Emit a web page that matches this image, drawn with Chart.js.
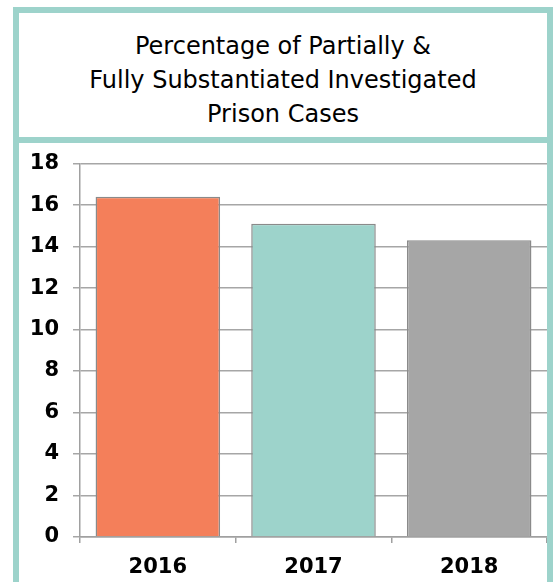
<!DOCTYPE html>
<html>
<head>
<meta charset="utf-8">
<script src="https://cdn.jsdelivr.net/npm/chart.js"></script>
<style>
  body { margin: 0; background: #fff; width: 553px; height: 582px; overflow: hidden; }
  .frame { position: absolute; left: 13px; top: 7px; width: 546px; height: 590px; background: #9dd3cb; }
  .title-box { position: absolute; left: 6px; top: 6px; width: 528px; height: 124px; background: #fff;
    font-family: "DejaVu Sans", Verdana, sans-serif; font-size: 24px; line-height: 34px; color: #000;
    text-align: center; box-sizing: border-box; padding-top: 16px; }
  .chart-box { position: absolute; left: 6px; top: 136px; width: 528px; height: 460px; background: #fff; }
  canvas { display: block; margin-top: -6px; }
</style>
</head>
<body>
<div class="frame">
  <div class="title-box">Percentage of Partially &amp;<br>Fully Substantiated Investigated<br>Prison Cases</div>
  <div class="chart-box"><canvas id="chart" width="528" height="445"></canvas></div>
</div>
<script>
const years = ['2016', '2017', '2018'];
const percentages = [16.4, 15.1, 14.3];
const barColors = ['#f47f5a', '#9dd3cb', '#a6a6a6'];
const yTicks = [0, 2, 4, 6, 8, 10, 12, 14, 16, 18];

const ctx = document.getElementById('chart').getContext('2d');
new Chart(ctx, {
  type: 'bar',
  data: {
    labels: years,
    datasets: [{
      data: percentages,
      backgroundColor: barColors,
      borderColor: '#8a8a8a',
      borderWidth: 1.5,
      barPercentage: 0.8,
      categoryPercentage: 1
    }]
  },
  options: {
    responsive: false,
    animation: false,
    layout: { padding: { top: 13, right: 0, left: 0, bottom: 0 } },
    plugins: { legend: { display: false }, tooltip: { enabled: false } },
    scales: {
      x: {
        grid: { drawOnChartArea: false, drawTicks: true, tickLength: 6, color: '#a0a0a0', lineWidth: 1.5 },
        border: { color: '#a0a0a0', width: 1.5 },
        ticks: { color: '#000', padding: 12, font: { family: 'DejaVu Sans', size: 21, weight: 'bold' } },
        afterFit: s => { s.height = 45; }
      },
      y: {
        min: 0,
        max: 18,
        afterBuildTicks: s => { s.ticks = yTicks.map(v => ({ value: v })); },
        grid: { color: '#a6a6a6', lineWidth: 1.5, tickLength: 7 },
        border: { color: '#a0a0a0', width: 1.5 },
        ticks: { color: '#000', padding: 14, font: { family: 'DejaVu Sans', size: 21, weight: 'bold' } },
        afterFit: s => { s.width = 61; }
      }
    }
  }
});
</script>
</body>
</html>
